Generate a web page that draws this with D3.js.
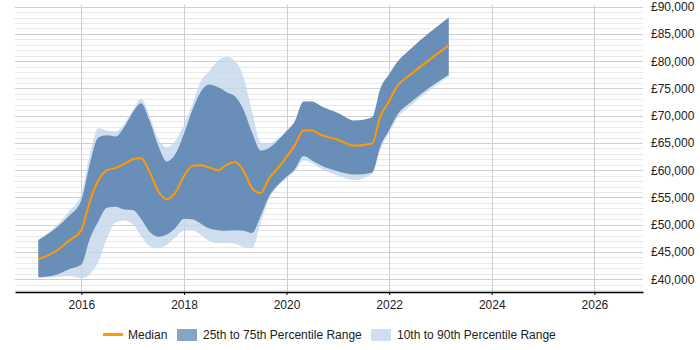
<!DOCTYPE html>
<html>
<head>
<meta charset="utf-8">
<script src="https://cdn.jsdelivr.net/npm/d3@7"></script>
<style>
  body { margin: 0; background: #fff; }
  text { font-family: "Liberation Sans", Arial, sans-serif; }
</style>
</head>
<body>
<div id="my_dataviz"></div>
<script>

// sample months
var months = ["2015-03", "2015-07", "2015-10", "2016-01", "2016-03", "2016-05", "2016-07", "2016-09", "2016-11",
    "2017-01", "2017-03", "2017-05", "2017-07", "2017-09", "2017-11", "2018-01", "2018-03", "2018-05", "2018-07",
    "2018-09", "2018-11", "2019-01", "2019-03", "2019-05", "2019-07", "2019-09", "2019-11", "2020-01", "2020-03",
    "2020-05", "2020-07", "2020-09", "2021-01", "2021-05", "2021-09", "2021-11", "2022-01", "2022-03", "2022-06",
    "2023-03"];

var median = [43700, 45100, 47000, 49000, 54200, 58100, 60000, 60400, 61100,
    62000, 62200, 59700, 56200, 54700, 55900, 58900, 60800, 60900, 60500,
    60000, 61000, 61500, 59900, 56700, 55800, 58600, 60400, 62400, 64600,
    67300, 67300, 66500, 65600, 64500, 64900, 70000, 72700, 75500, 77500,
    82900];

var p25 = [40400, 40800, 41800, 42700, 47400, 50600, 53100, 53300, 52800,
    52700, 51100, 48700, 47800, 48200, 49400, 51100, 51000, 50200, 49300,
    49000, 48900, 49000, 48900, 48500, 51600, 55300, 57300, 58800, 60200,
    62600, 61800, 60900, 59800, 59200, 59600, 64500, 67400, 70200, 72400,
    77500];

var p75 = [47200, 49300, 51500, 54500, 61100, 66000, 66400, 66200, 67900,
    70600, 72300, 69100, 64600, 61600, 63000, 66700, 71000, 74400, 75700,
    75200, 74300, 73500, 71100, 66900, 63600, 64100, 65500, 67200, 69000,
    72600, 72600, 71800, 70500, 69100, 69700, 75100, 77600, 79900, 82200,
    88000];

var p10 = [40200, 40400, 40600, 40200, 40900, 43200, 47500, 50400, 50800,
    50100, 48000, 46100, 45700, 46300, 47700, 48900, 49000, 48100, 47000,
    46600, 46700, 46500, 45900, 45700, 50300, 54900, 57100, 58500, 59800,
    61800, 61300, 60300, 59000, 58200, 59300, 63900, 66900, 69600, 71800,
    77200];

var p90 = [47300, 49700, 52300, 55600, 62800, 67700, 67300, 67100, 68500,
    70900, 73100, 70000, 65800, 64200, 65400, 68300, 72000, 76300, 78200,
    80100, 80800, 80000, 77100, 70800, 65100, 65000, 65800, 67200, 69000,
    72600, 72600, 71800, 70500, 69100, 69700, 75100, 77600, 79900, 82200,
    88000];

var yearTicks = [2016, 2018, 2020, 2022, 2024, 2026];
var salaryTicks = [40000, 45000, 50000, 55000, 60000, 65000, 70000, 75000, 80000, 85000, 90000];

var legendItems = ["Median", "25th to 75th Percentile Range", "10th to 90th Percentile Range"];

// set the dimensions and margins of the graph
var margin = { top: 5, right: 57, bottom: 58, left: 15 },
    width = 700 - margin.left - margin.right,
    height = 350 - margin.top - margin.bottom;

var svg = d3.select("#my_dataviz")
    .append("svg")
    .attr("width", 700)
    .attr("height", 350)
    .append("g")
    .attr("transform", "translate(" + margin.left + "," + margin.top + ")");

var parseMonth = d3.timeParse("%Y-%m");

var data = months.map(function (m, i) {
    return { date: parseMonth(m), median: median[i], p10: p10[i], p25: p25[i], p75: p75[i], p90: p90[i] };
});

var x = d3.scaleTime()
    .domain([new Date(2014, 8, 16), new Date(2026, 11, 13)])
    .range([0, width]);

var y = d3.scaleLinear()
    .domain([37670, 90300])
    .range([height, 0]);

// minor and major horizontal grid
var minor = d3.range(38000, 90001, 1000);
svg.append("g")
    .selectAll("line")
    .data(minor)
    .enter()
    .append("line")
    .attr("x1", 0)
    .attr("x2", width)
    .attr("y1", function (d) { return Math.round(y(d)) + 0.5; })
    .attr("y2", function (d) { return Math.round(y(d)) + 0.5; })
    .attr("stroke", function (d) { return d % 5000 == 0 ? "#cfcfcf" : "#e8e8e8"; })
    .attr("stroke-width", 1);

// vertical grid
svg.append("g")
    .selectAll("line")
    .data(yearTicks)
    .enter()
    .append("line")
    .attr("x1", function (d) { return Math.round(x(new Date(d, 0, 1))) + 0.5; })
    .attr("x2", function (d) { return Math.round(x(new Date(d, 0, 1))) + 0.5; })
    .attr("y1", 0)
    .attr("y2", height)
    .attr("stroke", "#cfcfcf")
    .attr("stroke-width", 1);

// bands
var area1090 = d3.area()
    .curve(d3.curveMonotoneX)
    .x(function (d) { return x(d.date); })
    .y0(function (d) { return y(d.p10); })
    .y1(function (d) { return y(d.p90); });

var area2575 = d3.area()
    .curve(d3.curveMonotoneX)
    .x(function (d) { return x(d.date); })
    .y0(function (d) { return y(d.p25); })
    .y1(function (d) { return y(d.p75); });

svg.append("path")
    .datum(data)
    .attr("fill", "#c4d7ec")
    .attr("fill-opacity", 0.8)
    .attr("d", area1090);

svg.append("path")
    .datum(data)
    .attr("fill", "#4f7aab")
    .attr("fill-opacity", 0.8)
    .attr("d", area2575);

// median line
svg.append("path")
    .datum(data)
    .attr("fill", "none")
    .attr("stroke", "#ff9900")
    .attr("stroke-width", 2)
    .attr("d", d3.line()
        .curve(d3.curveMonotoneX)
        .x(function (d) { return x(d.date); })
        .y(function (d) { return y(d.median); })
    );

// x axis
var xAxis = svg.append("g")
    .attr("transform", "translate(0," + height + ")")
    .call(d3.axisBottom(x)
        .tickValues(yearTicks.map(function (d) { return new Date(d, 0, 1); }))
        .tickFormat(d3.timeFormat("%Y"))
        .tickSizeInner(3)
        .tickSizeOuter(0)
        .tickPadding(5));
xAxis.select(".domain").attr("stroke", "#000").attr("stroke-width", 1.5);
xAxis.selectAll(".tick line").attr("stroke", "#000");
xAxis.selectAll("text").style("font-size", "12px").attr("fill", "#222");

// y axis on the right
var yAxis = svg.append("g")
    .attr("transform", "translate(" + width + ",0)")
    .call(d3.axisRight(y)
        .tickValues(salaryTicks)
        .tickFormat(function (d) { return "£" + d3.format(",")(d); })
        .tickSize(0)
        .tickPadding(8));
yAxis.select(".domain").remove();
yAxis.selectAll("text").style("font-size", "12px").attr("fill", "#222");

// legend
var legend = d3.select("svg").append("g");

legend.append("line")
    .attr("x1", 103).attr("x2", 123)
    .attr("y1", 334.5).attr("y2", 334.5)
    .attr("stroke", "#ff9900")
    .attr("stroke-width", 3);
legend.append("text")
    .attr("x", 128).attr("y", 338.5)
    .style("font-size", "12px")
    .attr("fill", "#222")
    .text(legendItems[0]);

legend.append("rect")
    .attr("x", 177).attr("y", 329)
    .attr("width", 20).attr("height", 12)
    .attr("fill", "#86a4c6");
legend.append("text")
    .attr("x", 203).attr("y", 338.5)
    .style("font-size", "12px")
    .attr("fill", "#222")
    .text(legendItems[1]);

legend.append("rect")
    .attr("x", 371).attr("y", 329)
    .attr("width", 20).attr("height", 12)
    .attr("fill", "#cfdff0");
legend.append("text")
    .attr("x", 397).attr("y", 338.5)
    .style("font-size", "12px")
    .attr("fill", "#222")
    .text(legendItems[2]);

</script>
</body>
</html>
